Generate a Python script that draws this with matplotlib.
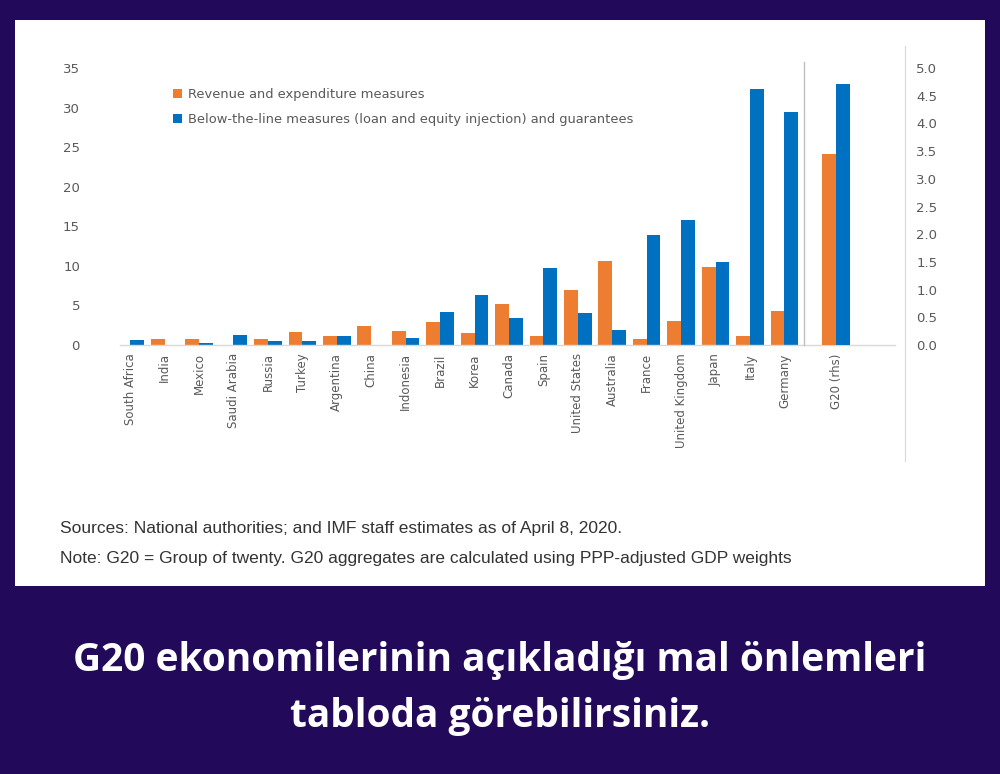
import matplotlib.pyplot as plt
import numpy as np

countries = ["South Africa", "India", "Mexico", "Saudi Arabia", "Russia", "Turkey",
             "Argentina", "China", "Indonesia", "Brazil", "Korea", "Canada", "Spain",
             "United States", "Australia", "France", "United Kingdom", "Japan", "Italy", "Germany"]
revenue = [0, 0.7, 0.7, 0, 0.8, 1.6, 1.2, 2.4, 1.8, 2.9, 1.5, 5.2, 1.2, 6.9, 10.6, 0.7, 3.0, 9.9, 1.2, 4.3]
below_line = [0.6, 0, 0.2, 1.3, 0.5, 0.5, 1.2, 0, 0.9, 4.2, 6.3, 3.4, 9.7, 4.1, 1.9, 13.9, 15.8, 10.5, 32.3, 29.4]
g20_label = "G20 (rhs)"
g20_revenue = 3.45
g20_below = 4.72

ORANGE = "#ED7D31"
BLUE = "#0070C0"
GREY = "#595959"
BG = "#22095A"

fig = plt.figure(figsize=(10, 7.74), dpi=100, facecolor=BG)
# white card behind the chart
card = fig.add_axes([0.015, 1 - 586 / 774, 0.97, 566 / 774], zorder=-10)
card.set_facecolor("white")
card.set_xticks([])
card.set_yticks([])
for s in card.spines.values():
    s.set_visible(False)

ax = fig.add_axes([0.105, 1 - 345 / 774, 0.80, 277 / 774])
ax.set_facecolor("none")
x = np.arange(len(countries))
w = 0.4
ax.bar(x - w / 2, revenue, w, color=ORANGE, label="Revenue and expenditure measures")
ax.bar(x + w / 2, below_line, w, color=BLUE,
       label="Below-the-line measures (loan and equity injection) and guarantees")
ax.set_ylim(0, 35)
ax.set_xlim(-0.73, 22.5)
ax.set_yticks(range(0, 36, 5))
g20_x = 20.5
ax.set_xticks(list(x) + [g20_x])
ax.set_xticklabels(countries + [g20_label], rotation=90, fontsize=8.5, color=GREY)
ax.tick_params(axis="y", labelsize=9.5, colors=GREY, length=0, pad=18)
ax.tick_params(axis="x", length=0, pad=6)
for s in ["top", "right", "left", "bottom"]:
    ax.spines[s].set_visible(False)
ax.plot([-0.3, 22.2], [0, 0], color="#d9d9d9", lw=1, clip_on=False)
ax.axvline(19.56, ymin=0, ymax=1.02, color="#bfbfbf", lw=1, clip_on=False)

ax2 = ax.twinx()
ax2.bar([g20_x - w / 2], [g20_revenue], w, color=ORANGE)
ax2.bar([g20_x + w / 2], [g20_below], w, color=BLUE)
ax2.set_ylim(0, 5)
ax2.set_yticks(np.arange(0, 5.01, 0.5))
ax2.set_yticklabels([f"{v:.1f}" for v in np.arange(0, 5.01, 0.5)])
ax2.tick_params(axis="y", labelsize=9.5, colors=GREY, length=0, pad=8)
for s in ["top", "left", "bottom"]:
    ax2.spines[s].set_visible(False)
ax2.spines["right"].set_bounds(-2.1, 5.4)
ax2.spines["right"].set_color("#d9d9d9")

leg = ax.legend(loc="upper left", bbox_to_anchor=(0.07, 0.97), frameon=False,
                fontsize=9.4, handlelength=0.7, handleheight=0.7, labelspacing=0.9,
                handletextpad=0.5)
for t in leg.get_texts():
    t.set_color(GREY)

fig.text(0.06, 1 - 528 / 774, "Sources: National authorities; and IMF staff estimates as of April 8, 2020.",
         fontsize=12.5, color="#333333", va="center", family="Liberation Sans")
fig.text(0.06, 1 - 558 / 774, "Note: G20 = Group of twenty. G20 aggregates are calculated using PPP-adjusted GDP weights",
         fontsize=12.5, color="#333333", va="center", family="Liberation Sans")
fig.text(0.5, 1 - 660 / 774, "G20 ekonomilerinin açıkladığı mal önlemleri",
         fontsize=28, color="white", weight="bold", ha="center", va="center", family="Open Sans")
fig.text(0.5, 1 - 716 / 774, "tabloda görebilirsiniz.",
         fontsize=28, color="white", weight="bold", ha="center", va="center", family="Open Sans")

fig.savefig("out.png", dpi=100, facecolor=BG)
